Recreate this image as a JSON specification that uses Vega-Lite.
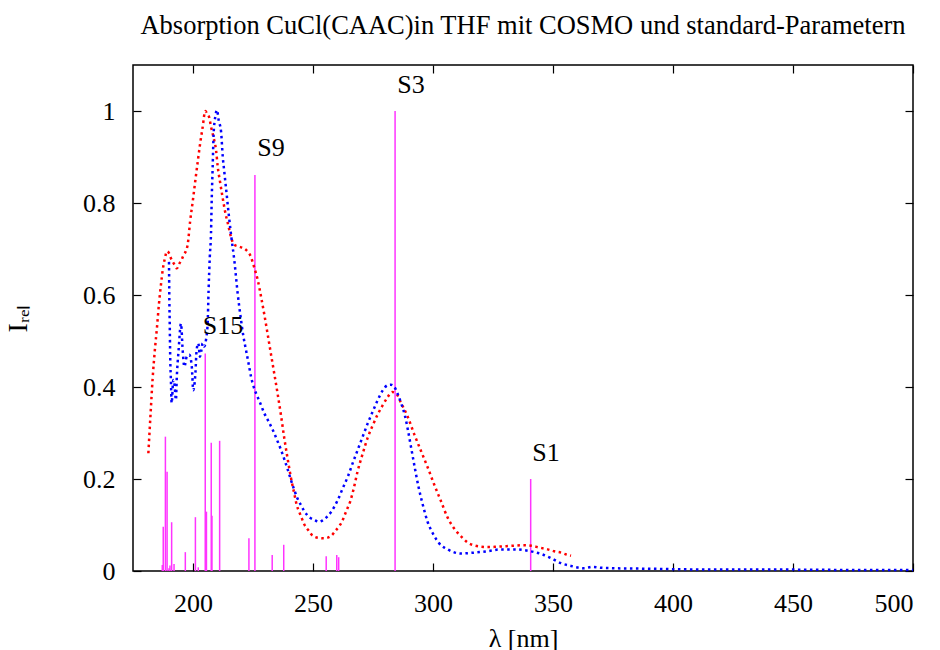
{
  "$schema": "https://vega.github.io/schema/vega-lite/v6.json",
  "width": 780,
  "height": 506,
  "autosize": {"type": "none"},
  "padding": {"left": 133, "top": 65, "right": 27, "bottom": 79},
  "background": "white",
  "config": {
    "view": {"stroke": "black", "strokeWidth": 1.5},
    "font": "Liberation Serif",
    "axis": {"labelFont": "Liberation Serif", "titleFont": "Liberation Serif", "labelColor": "black", "titleColor": "black", "titleFontWeight": "normal", "grid": false, "domain": false, "tickColor": "black"}
  },
  "title": {"text": "Absorption CuCl(CAAC)in THF mit COSMO und standard-Parametern", "font": "Liberation Serif", "fontSize": 26.5, "fontWeight": "normal", "color": "black", "anchor": "middle", "offset": 25},
  "datasets": {
    "curves": [
      {"series": "red", "nm": 181.4, "I": 0.256}, {"series": "red", "nm": 182.3, "I": 0.34}, {"series": "red", "nm": 183.2, "I": 0.42}, {"series": "red", "nm": 184.1, "I": 0.48}, {"series": "red", "nm": 185.0, "I": 0.53}, {"series": "red", "nm": 185.8, "I": 0.58}, {"series": "red", "nm": 186.6, "I": 0.62}, {"series": "red", "nm": 187.4, "I": 0.655}, {"series": "red", "nm": 188.3, "I": 0.68}, {"series": "red", "nm": 189.2, "I": 0.695}, {"series": "red", "nm": 190.1, "I": 0.69}, {"series": "red", "nm": 190.8, "I": 0.68}, {"series": "red", "nm": 191.6, "I": 0.672}, {"series": "red", "nm": 192.4, "I": 0.665}, {"series": "red", "nm": 193.3, "I": 0.658}, {"series": "red", "nm": 194.3, "I": 0.668}, {"series": "red", "nm": 195.2, "I": 0.676}, {"series": "red", "nm": 196.2, "I": 0.688}, {"series": "red", "nm": 197.0, "I": 0.695}, {"series": "red", "nm": 197.8, "I": 0.71}, {"series": "red", "nm": 198.8, "I": 0.76}, {"series": "red", "nm": 199.9, "I": 0.804}, {"series": "red", "nm": 201.0, "I": 0.85}, {"series": "red", "nm": 202.0, "I": 0.891}, {"series": "red", "nm": 203.0, "I": 0.93}, {"series": "red", "nm": 204.0, "I": 0.964}, {"series": "red", "nm": 205.1, "I": 1.0}, {"series": "red", "nm": 206.0, "I": 0.993}, {"series": "red", "nm": 206.8, "I": 0.985}, {"series": "red", "nm": 207.5, "I": 0.966}, {"series": "red", "nm": 208.5, "I": 0.944}, {"series": "red", "nm": 209.6, "I": 0.915}, {"series": "red", "nm": 210.3, "I": 0.879}, {"series": "red", "nm": 211.3, "I": 0.845}, {"series": "red", "nm": 212.4, "I": 0.81}, {"series": "red", "nm": 213.5, "I": 0.778}, {"series": "red", "nm": 214.5, "I": 0.756}, {"series": "red", "nm": 215.8, "I": 0.727}, {"series": "red", "nm": 217.2, "I": 0.709}, {"series": "red", "nm": 219.3, "I": 0.705}, {"series": "red", "nm": 222.1, "I": 0.698}, {"series": "red", "nm": 224.2, "I": 0.682}, {"series": "red", "nm": 225.5, "I": 0.66}, {"series": "red", "nm": 227.0, "I": 0.632}, {"series": "red", "nm": 228.4, "I": 0.595}, {"series": "red", "nm": 229.7, "I": 0.558}, {"series": "red", "nm": 231.1, "I": 0.515}, {"series": "red", "nm": 232.5, "I": 0.471}, {"series": "red", "nm": 233.9, "I": 0.428}, {"series": "red", "nm": 235.3, "I": 0.384}, {"series": "red", "nm": 236.7, "I": 0.337}, {"series": "red", "nm": 238.0, "I": 0.29}, {"series": "red", "nm": 239.4, "I": 0.245}, {"series": "red", "nm": 240.8, "I": 0.203}, {"series": "red", "nm": 242.2, "I": 0.168}, {"series": "red", "nm": 243.3, "I": 0.142}, {"series": "red", "nm": 244.3, "I": 0.128}, {"series": "red", "nm": 245.3, "I": 0.115}, {"series": "red", "nm": 246.4, "I": 0.101}, {"series": "red", "nm": 248.0, "I": 0.089}, {"series": "red", "nm": 249.6, "I": 0.078}, {"series": "red", "nm": 252.2, "I": 0.072}, {"series": "red", "nm": 254.7, "I": 0.071}, {"series": "red", "nm": 257.5, "I": 0.076}, {"series": "red", "nm": 259.3, "I": 0.087}, {"series": "red", "nm": 261.0, "I": 0.098}, {"series": "red", "nm": 262.4, "I": 0.111}, {"series": "red", "nm": 263.3, "I": 0.123}, {"series": "red", "nm": 264.5, "I": 0.138}, {"series": "red", "nm": 265.5, "I": 0.151}, {"series": "red", "nm": 267.0, "I": 0.18}, {"series": "red", "nm": 268.6, "I": 0.217}, {"series": "red", "nm": 270.7, "I": 0.255}, {"series": "red", "nm": 272.8, "I": 0.29}, {"series": "red", "nm": 275.0, "I": 0.318}, {"series": "red", "nm": 277.0, "I": 0.341}, {"series": "red", "nm": 279.0, "I": 0.36}, {"series": "red", "nm": 281.1, "I": 0.378}, {"series": "red", "nm": 283.0, "I": 0.389}, {"series": "red", "nm": 284.6, "I": 0.386}, {"series": "red", "nm": 286.7, "I": 0.365}, {"series": "red", "nm": 289.5, "I": 0.335}, {"series": "red", "nm": 292.2, "I": 0.297}, {"series": "red", "nm": 295.0, "I": 0.261}, {"series": "red", "nm": 297.8, "I": 0.225}, {"series": "red", "nm": 300.5, "I": 0.188}, {"series": "red", "nm": 303.3, "I": 0.152}, {"series": "red", "nm": 306.1, "I": 0.116}, {"series": "red", "nm": 308.2, "I": 0.097}, {"series": "red", "nm": 310.3, "I": 0.083}, {"series": "red", "nm": 312.3, "I": 0.072}, {"series": "red", "nm": 314.4, "I": 0.062}, {"series": "red", "nm": 317.0, "I": 0.056}, {"series": "red", "nm": 320.0, "I": 0.053}, {"series": "red", "nm": 323.5, "I": 0.052}, {"series": "red", "nm": 327.0, "I": 0.053}, {"series": "red", "nm": 330.5, "I": 0.054}, {"series": "red", "nm": 333.9, "I": 0.055}, {"series": "red", "nm": 337.4, "I": 0.056}, {"series": "red", "nm": 340.8, "I": 0.055}, {"series": "red", "nm": 344.3, "I": 0.051}, {"series": "red", "nm": 347.8, "I": 0.047}, {"series": "red", "nm": 350.5, "I": 0.043}, {"series": "red", "nm": 353.3, "I": 0.04}, {"series": "red", "nm": 355.5, "I": 0.036}, {"series": "red", "nm": 357.5, "I": 0.033},
      {"series": "blue", "nm": 190.0, "I": 0.672}, {"series": "blue", "nm": 190.1, "I": 0.611}, {"series": "blue", "nm": 190.3, "I": 0.539}, {"series": "blue", "nm": 190.5, "I": 0.466}, {"series": "blue", "nm": 190.8, "I": 0.415}, {"series": "blue", "nm": 191.1, "I": 0.365}, {"series": "blue", "nm": 191.8, "I": 0.415}, {"series": "blue", "nm": 192.2, "I": 0.409}, {"series": "blue", "nm": 192.9, "I": 0.372}, {"series": "blue", "nm": 193.2, "I": 0.415}, {"series": "blue", "nm": 194.0, "I": 0.48}, {"series": "blue", "nm": 195.0, "I": 0.538}, {"series": "blue", "nm": 195.7, "I": 0.48}, {"series": "blue", "nm": 196.4, "I": 0.444}, {"series": "blue", "nm": 197.4, "I": 0.466}, {"series": "blue", "nm": 198.5, "I": 0.47}, {"series": "blue", "nm": 199.5, "I": 0.444}, {"series": "blue", "nm": 200.1, "I": 0.393}, {"series": "blue", "nm": 201.0, "I": 0.43}, {"series": "blue", "nm": 201.5, "I": 0.48}, {"series": "blue", "nm": 202.2, "I": 0.495}, {"series": "blue", "nm": 202.9, "I": 0.466}, {"series": "blue", "nm": 203.5, "I": 0.48}, {"series": "blue", "nm": 204.0, "I": 0.495}, {"series": "blue", "nm": 204.7, "I": 0.488}, {"series": "blue", "nm": 205.4, "I": 0.502}, {"series": "blue", "nm": 206.1, "I": 0.538}, {"series": "blue", "nm": 206.5, "I": 0.611}, {"series": "blue", "nm": 207.0, "I": 0.683}, {"series": "blue", "nm": 207.5, "I": 0.734}, {"series": "blue", "nm": 207.8, "I": 0.807}, {"series": "blue", "nm": 208.2, "I": 0.879}, {"series": "blue", "nm": 208.6, "I": 0.951}, {"series": "blue", "nm": 209.3, "I": 0.988}, {"series": "blue", "nm": 210.0, "I": 1.002}, {"series": "blue", "nm": 210.7, "I": 0.98}, {"series": "blue", "nm": 211.7, "I": 0.955}, {"series": "blue", "nm": 212.4, "I": 0.9}, {"series": "blue", "nm": 213.0, "I": 0.87}, {"series": "blue", "nm": 214.0, "I": 0.82}, {"series": "blue", "nm": 215.0, "I": 0.77}, {"series": "blue", "nm": 216.0, "I": 0.725}, {"series": "blue", "nm": 217.2, "I": 0.676}, {"series": "blue", "nm": 218.6, "I": 0.604}, {"series": "blue", "nm": 220.0, "I": 0.546}, {"series": "blue", "nm": 221.0, "I": 0.51}, {"series": "blue", "nm": 222.1, "I": 0.48}, {"series": "blue", "nm": 223.2, "I": 0.45}, {"series": "blue", "nm": 224.2, "I": 0.422}, {"series": "blue", "nm": 225.3, "I": 0.4}, {"series": "blue", "nm": 226.3, "I": 0.386}, {"series": "blue", "nm": 228.0, "I": 0.365}, {"series": "blue", "nm": 229.7, "I": 0.343}, {"series": "blue", "nm": 231.5, "I": 0.325}, {"series": "blue", "nm": 233.2, "I": 0.307}, {"series": "blue", "nm": 235.0, "I": 0.285}, {"series": "blue", "nm": 236.7, "I": 0.263}, {"series": "blue", "nm": 238.1, "I": 0.242}, {"series": "blue", "nm": 239.5, "I": 0.22}, {"series": "blue", "nm": 240.8, "I": 0.198}, {"series": "blue", "nm": 242.2, "I": 0.176}, {"series": "blue", "nm": 243.6, "I": 0.157}, {"series": "blue", "nm": 245.0, "I": 0.143}, {"series": "blue", "nm": 246.4, "I": 0.13}, {"series": "blue", "nm": 248.5, "I": 0.117}, {"series": "blue", "nm": 250.5, "I": 0.111}, {"series": "blue", "nm": 252.6, "I": 0.107}, {"series": "blue", "nm": 254.0, "I": 0.11}, {"series": "blue", "nm": 255.7, "I": 0.117}, {"series": "blue", "nm": 257.5, "I": 0.128}, {"series": "blue", "nm": 258.9, "I": 0.14}, {"series": "blue", "nm": 260.3, "I": 0.154}, {"series": "blue", "nm": 262.4, "I": 0.18}, {"series": "blue", "nm": 264.5, "I": 0.205}, {"series": "blue", "nm": 266.5, "I": 0.234}, {"series": "blue", "nm": 268.6, "I": 0.263}, {"series": "blue", "nm": 270.7, "I": 0.292}, {"series": "blue", "nm": 272.8, "I": 0.321}, {"series": "blue", "nm": 275.0, "I": 0.348}, {"series": "blue", "nm": 277.0, "I": 0.372}, {"series": "blue", "nm": 279.0, "I": 0.392}, {"series": "blue", "nm": 281.1, "I": 0.404}, {"series": "blue", "nm": 282.5, "I": 0.405}, {"series": "blue", "nm": 283.9, "I": 0.4}, {"series": "blue", "nm": 285.3, "I": 0.385}, {"series": "blue", "nm": 286.7, "I": 0.365}, {"series": "blue", "nm": 288.2, "I": 0.34}, {"series": "blue", "nm": 289.6, "I": 0.305}, {"series": "blue", "nm": 291.0, "I": 0.265}, {"series": "blue", "nm": 292.5, "I": 0.222}, {"series": "blue", "nm": 294.0, "I": 0.182}, {"series": "blue", "nm": 295.7, "I": 0.145}, {"series": "blue", "nm": 297.8, "I": 0.106}, {"series": "blue", "nm": 299.9, "I": 0.082}, {"series": "blue", "nm": 302.6, "I": 0.06}, {"series": "blue", "nm": 306.1, "I": 0.047}, {"series": "blue", "nm": 311.7, "I": 0.038}, {"series": "blue", "nm": 317.2, "I": 0.04}, {"series": "blue", "nm": 322.8, "I": 0.043}, {"series": "blue", "nm": 328.3, "I": 0.047}, {"series": "blue", "nm": 333.9, "I": 0.047}, {"series": "blue", "nm": 339.5, "I": 0.044}, {"series": "blue", "nm": 345.0, "I": 0.037}, {"series": "blue", "nm": 349.2, "I": 0.028}, {"series": "blue", "nm": 353.3, "I": 0.017}, {"series": "blue", "nm": 357.5, "I": 0.011}, {"series": "blue", "nm": 363.0, "I": 0.006}, {"series": "blue", "nm": 366.5, "I": 0.009}, {"series": "blue", "nm": 370.0, "I": 0.007}, {"series": "blue", "nm": 375.5, "I": 0.006}, {"series": "blue", "nm": 389.4, "I": 0.005}, {"series": "blue", "nm": 400.5, "I": 0.004}, {"series": "blue", "nm": 420.0, "I": 0.003}, {"series": "blue", "nm": 450.0, "I": 0.003}, {"series": "blue", "nm": 480.0, "I": 0.002}, {"series": "blue", "nm": 500.0, "I": 0.002}
    ],
    "sticks": [
      {"nm": 187.2, "I": 0.013}, {"nm": 187.6, "I": 0.096}, {"nm": 188.5, "I": 0.292}, {"nm": 189.2, "I": 0.216}, {"nm": 190.0, "I": 0.006}, {"nm": 190.4, "I": 0.012}, {"nm": 191.1, "I": 0.106}, {"nm": 192.1, "I": 0.015}, {"nm": 196.8, "I": 0.041}, {"nm": 201.0, "I": 0.117}, {"nm": 202.2, "I": 0.008}, {"nm": 205.1, "I": 0.473}, {"nm": 205.6, "I": 0.129}, {"nm": 207.6, "I": 0.279}, {"nm": 207.9, "I": 0.12}, {"nm": 211.1, "I": 0.283}, {"nm": 223.3, "I": 0.071}, {"nm": 225.8, "I": 0.861}, {"nm": 233.0, "I": 0.035}, {"nm": 237.8, "I": 0.057}, {"nm": 255.5, "I": 0.032}, {"nm": 259.9, "I": 0.035}, {"nm": 260.7, "I": 0.03}, {"nm": 284.2, "I": 1.0}, {"nm": 340.7, "I": 0.2}
    ],
    "labels": [
      {"label": "S3", "nm": 290.8, "I": 1.057}, {"label": "S9", "nm": 232.5, "I": 0.92}, {"label": "S15", "nm": 212.5, "I": 0.533}, {"label": "S1", "nm": 347.1, "I": 0.257}
    ]
  },
  "layer": [
    {
      "data": {"name": "sticks"},
      "mark": {"type": "rule", "color": "#ff33ff", "strokeWidth": 1.5},
      "encoding": {
        "x": {"field": "nm", "type": "quantitative", "scale": {"domain": [175, 500], "nice": false, "zero": false},
          "axis": {"orient": "bottom", "values": [200, 250, 300, 350, 400, 450, 500], "tickSize": -8, "tickWidth": 1.2, "labelFontSize": 26, "labelPadding": 27, "title": "λ [nm]", "titleFontSize": 26, "titlePadding": 9}},
        "y": {"field": "I", "type": "quantitative", "scale": {"domain": [0, 1.1], "nice": false},
          "axis": {"orient": "left", "values": [0, 0.2, 0.4, 0.6, 0.8, 1], "format": "~g", "tickSize": -8, "tickWidth": 1.2, "labelFontSize": 26, "labelPadding": 26, "title": "Iᵣₑₗ", "titleFontSize": 28, "titlePadding": 50}},
        "y2": {"datum": 0}
      }
    },
    {
      "data": {"name": "curves"},
      "mark": {"type": "line", "strokeWidth": 2.5, "strokeDash": [2.5, 3.5], "interpolate": "monotone"},
      "encoding": {
        "x": {"field": "nm", "type": "quantitative", "axis": null},
        "y": {"field": "I", "type": "quantitative", "axis": null},
        "color": {"field": "series", "type": "nominal", "scale": {"domain": ["red", "blue"], "range": ["#ff0000", "#0000ff"]}, "legend": null}
      }
    },
    {
      "data": {"name": "labels"},
      "mark": {"type": "text", "font": "Liberation Serif", "fontSize": 26, "color": "black", "align": "center", "baseline": "middle"},
      "encoding": {
        "x": {"field": "nm", "type": "quantitative",
          "axis": {"orient": "top", "values": [200, 250, 300, 350, 400, 450, 500], "tickSize": -8, "tickWidth": 1.2, "labels": false, "title": null}},
        "y": {"field": "I", "type": "quantitative",
          "axis": {"orient": "right", "values": [0, 0.2, 0.4, 0.6, 0.8, 1], "tickSize": -8, "tickWidth": 1.2, "labels": false, "title": null}},
        "text": {"field": "label"}
      }
    }
  ],
  "resolve": {"axis": {"x": "independent", "y": "independent"}}
}
